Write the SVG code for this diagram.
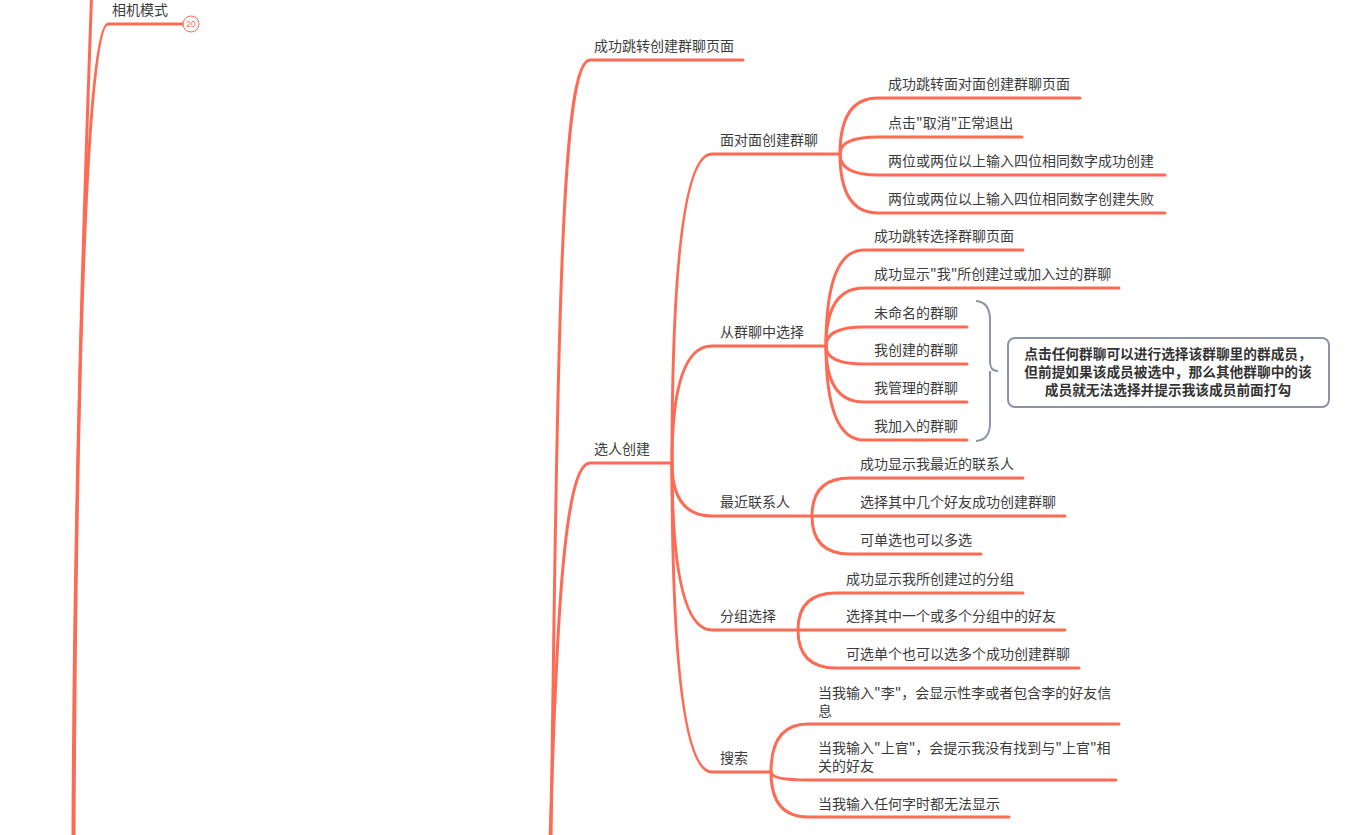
<svg xmlns="http://www.w3.org/2000/svg" width="1358" height="835" viewBox="0 0 1358 835">
<style>
.c{fill:none;stroke:#fd6b55;stroke-width:3;stroke-linecap:round}
.t{font-family:"Noto Sans CJK SC","Liberation Sans",sans-serif;font-size:14px;fill:#3c3c3c}
.b{font-family:"Noto Sans CJK SC","Liberation Sans",sans-serif;font-size:13.7px;font-weight:bold;fill:#333;text-anchor:middle}
.g{fill:none;stroke:#8b95a8;stroke-width:2}
</style>
<rect width="1358" height="835" fill="#fff"/>
<g id="connectors">
<path class="c" d="M73,840 C74,500 84,200 95,-100"/>
<path class="c" d="M74,840 C76,400 86,24 108,24 L183,24"/>
<path class="c" d="M551,840 C558,300 562,60 590,60 L743,60"/>
<path class="c" d="M550,840 C556,640 563,463 590,463 L672,463"/>
<path class="c" d="M672,463 Q672,154 712,154 L840,154"/>
<path class="c" d="M672,463 Q672,346 712,346 L826,346"/>
<path class="c" d="M672,463 Q672,516 712,516 L812,516"/>
<path class="c" d="M672,463 Q672,630 712,630 L798,630"/>
<path class="c" d="M672,463 Q672,772 712,772 L771,772"/>
<path class="c" d="M840,154 Q840,98 878,98 L1080,98"/>
<path class="c" d="M840,154 Q840,137 878,137 L1022,137"/>
<path class="c" d="M840,154 Q840,175 878,175 L1165,175"/>
<path class="c" d="M840,154 Q840,213 878,213 L1165,213"/>
<path class="c" d="M826,346 Q826,250 864,250 L1023,250"/>
<path class="c" d="M826,346 Q826,288 864,288 L1119,288"/>
<path class="c" d="M826,346 Q826,327 864,327 L967,327"/>
<path class="c" d="M826,346 Q826,364 864,364 L967,364"/>
<path class="c" d="M826,346 Q826,402 864,402 L967,402"/>
<path class="c" d="M826,346 Q826,440 864,440 L967,440"/>
<path class="c" d="M812,516 Q812,478 850,478 L1023,478"/>
<path class="c" d="M812,516 L1065,516"/>
<path class="c" d="M812,516 Q812,554 850,554 L981,554"/>
<path class="c" d="M798,630 Q798,593 836,593 L1023,593"/>
<path class="c" d="M798,630 L1065,630"/>
<path class="c" d="M798,630 Q798,668 836,668 L1079,668"/>
<path class="c" d="M771,772 Q771,724 808,724 L1119,724"/>
<path class="c" d="M771,772 Q771,780 808,780 L1116,780"/>
<path class="c" d="M771,772 Q771,817 808,817 L1009,817"/>
<path class="g" d="M976,301 Q990,302 990,320 L990,362 Q990,371 998,371 M990,371 Q990,380 990,382 L990,423 Q990,440 976,441"/>
</g>
<g id="n-camera"><text class="t" x="112" y="15">相机模式</text>
<circle cx="191" cy="24" r="8" fill="#fff" stroke="#fd6b55" stroke-width="1"/>
<text x="191" y="27" font-family="Liberation Sans,sans-serif" font-size="8.5" fill="#fd6b55" text-anchor="middle">20</text></g>
<g id="n-jump"><text class="t" x="594" y="51">成功跳转创建群聊页面</text></g>
<g id="n-select"><text class="t" x="594" y="454">选人创建</text></g>
<g id="n-f2f"><text class="t" x="720" y="145">面对面创建群聊</text></g>
<g id="n-f2f-1"><text class="t" x="888" y="89">成功跳转面对面创建群聊页面</text></g>
<g id="n-f2f-2"><text class="t" x="888" y="128">点击"取消"正常退出</text></g>
<g id="n-f2f-3"><text class="t" x="888" y="166">两位或两位以上输入四位相同数字成功创建</text></g>
<g id="n-f2f-4"><text class="t" x="888" y="204">两位或两位以上输入四位相同数字创建失败</text></g>
<g id="n-group"><text class="t" x="720" y="337">从群聊中选择</text></g>
<g id="n-group-1"><text class="t" x="874" y="241">成功跳转选择群聊页面</text></g>
<g id="n-group-2"><text class="t" x="874" y="279">成功显示"我"所创建过或加入过的群聊</text></g>
<g id="n-group-3"><text class="t" x="874" y="318">未命名的群聊</text></g>
<g id="n-group-4"><text class="t" x="874" y="355">我创建的群聊</text></g>
<g id="n-group-5"><text class="t" x="874" y="393">我管理的群聊</text></g>
<g id="n-group-6"><text class="t" x="874" y="431">我加入的群聊</text></g>
<g id="n-note"><rect x="1008" y="338" width="321" height="69" rx="7" fill="#fff" stroke="#8b95a8" stroke-width="2"/>
<text class="b" x="1168" y="359">点击任何群聊可以进行选择该群聊里的群成员，</text>
<text class="b" x="1168" y="377">但前提如果该成员被选中，那么其他群聊中的该</text>
<text class="b" x="1168" y="395">成员就无法选择并提示我该成员前面打勾</text></g>
<g id="n-recent"><text class="t" x="720" y="507">最近联系人</text></g>
<g id="n-recent-1"><text class="t" x="860" y="469">成功显示我最近的联系人</text></g>
<g id="n-recent-2"><text class="t" x="860" y="507">选择其中几个好友成功创建群聊</text></g>
<g id="n-recent-3"><text class="t" x="860" y="545">可单选也可以多选</text></g>
<g id="n-grp"><text class="t" x="720" y="621">分组选择</text></g>
<g id="n-grp-1"><text class="t" x="846" y="584">成功显示我所创建过的分组</text></g>
<g id="n-grp-2"><text class="t" x="846" y="621">选择其中一个或多个分组中的好友</text></g>
<g id="n-grp-3"><text class="t" x="846" y="659">可选单个也可以选多个成功创建群聊</text></g>
<g id="n-search"><text class="t" x="720" y="763">搜索</text></g>
<g id="n-search-1"><text class="t" x="818" y="698">当我输入"李"，会显示性李或者包含李的好友信</text><text class="t" x="818" y="716">息</text></g>
<g id="n-search-2"><text class="t" x="818" y="753">当我输入"上官"，会提示我没有找到与"上官"相</text><text class="t" x="818" y="771">关的好友</text></g>
<g id="n-search-3"><text class="t" x="818" y="809">当我输入任何字时都无法显示</text></g>
</svg>
